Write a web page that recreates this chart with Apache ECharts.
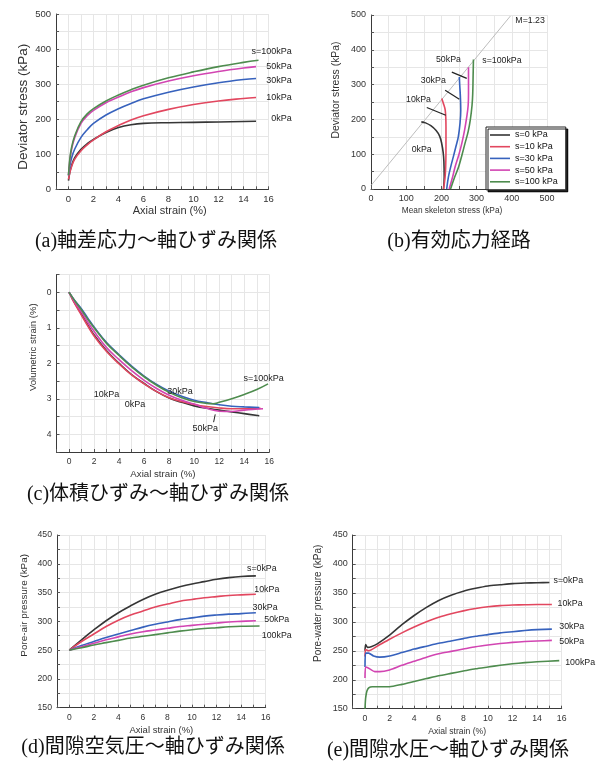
<!DOCTYPE html>
<html>
<head>
<meta charset="utf-8">
<script src="https://cdn.jsdelivr.net/npm/echarts@6.0.0/dist/echarts.min.js"></script>
<style>
html,body{margin:0;padding:0;background:#fff;}
#chart{width:602px;height:769px;}
</style>
</head>
<body>
<div id="chart"></div>
<script>
// ---------------- tick labels ----------------
const strainTickLabels = [0, 2, 4, 6, 8, 10, 12, 14, 16];
const stressTickLabels = [0, 100, 200, 300, 400, 500];
const volTickLabels = [0, 1, 2, 3, 4];
const poreTickLabels = [150, 200, 250, 300, 350, 400, 450];

// ---------------- series names ----------------
const suctionLabels = ['0kPa', '10kPa', '30kPa', '50kPa', '100kPa'];
const legendNames = ['s=0 kPa', 's=10 kPa', 's=30 kPa', 's=50 kPa', 's=100 kPa'];

// ---------------- (a) deviator stress vs axial strain [strain %, q kPa] ----------------
const devS0 = [[0,25],[0.1,48],[0.25,68],[0.5,90],[1,114],[1.5,130],[2,142],[3,162],[4,176],[5,184],[6,188],[8,190],[10,191],[12,192],[15,194]];
const devS10 = [[0,28],[0.1,47],[0.25,65],[0.5,86],[1,110],[1.5,127],[2,141],[3,164],[4,182],[5,198],[6,210],[8,228],[10,242],[12,252],[14,259],[15,262]];
const devS30 = [[0,40],[0.1,65],[0.25,90],[0.5,115],[1,148],[1.5,170],[2,188],[3,212],[4,230],[5,245],[6,258],[8,277],[10,292],[12,304],[14,313],[15,316]];
const devS50 = [[0,40],[0.1,80],[0.25,115],[0.5,148],[1,188],[1.5,210],[2,225],[3,247],[4,263],[5,278],[6,290],[8,309],[10,324],[12,336],[14,346],[15,350]];
const devS100 = [[0,40],[0.1,85],[0.25,120],[0.5,153],[1,193],[1.5,215],[2,230],[3,252],[4,269],[5,284],[6,297],[8,318],[10,335],[12,350],[14,362],[15.2,368]];

// ---------------- (b) effective stress path [p kPa, q kPa] ----------------
const pathS0 = [[206,0],[208,35],[207,80],[205,105],[201,130],[195,152],[185,168],[170,182],[155,190],[143,193]];
const pathS10 = [[206,0],[210,30],[212,60],[213,112],[213,178],[211,226],[205,248],[201,260]];
const pathS30 = [[215,0],[220,35],[228,70],[234,93],[242,125],[248,150],[253,190],[255,226],[254,264],[252,300],[251,322]];
const pathS50 = [[222,0],[232,35],[239,64],[250,100],[258,131],[266,170],[272,207],[276,240],[277,274],[277,310],[277,350]];
const pathS100 = [[226,0],[238,35],[249,64],[259,100],[267,131],[276,165],[282,198],[287,240],[289,274],[290,320],[291,372]];
const criticalLine = [[0,10],[396,497]];

// ---------------- (c) volumetric strain vs axial strain [strain %, volumetric %] ----------------
const volS0 = [[0,0],[0.25,0.17],[0.5,0.33],[1,0.62],[1.5,0.92],[2,1.2],[3,1.65],[4,2.0],[5,2.32],[6,2.57],[7,2.8],[8,2.98],[9,3.1],[10,3.2],[11,3.27],[12,3.32],[13,3.37],[14,3.42],[15.2,3.48]];
const volS10 = [[0,0],[0.25,0.18],[0.5,0.35],[1,0.65],[1.5,0.95],[2,1.23],[3,1.67],[4,2.02],[5,2.33],[6,2.58],[7,2.8],[8,2.97],[9,3.08],[10,3.16],[11,3.22],[12,3.26],[13,3.28],[14,3.28],[15.3,3.27]];
const volS30 = [[0,0],[0.25,0.13],[0.5,0.25],[1,0.47],[1.5,0.73],[2,0.98],[3,1.42],[4,1.76],[5,2.08],[6,2.36],[7,2.6],[8,2.79],[9,2.93],[10,3.04],[11,3.11],[12,3.17],[13,3.21],[14,3.23],[15.2,3.25]];
const volS50 = [[0,0],[0.25,0.15],[0.5,0.3],[1,0.56],[1.5,0.84],[2,1.1],[3,1.56],[4,1.9],[5,2.21],[6,2.48],[7,2.71],[8,2.9],[9,3.04],[10,3.15],[11,3.27],[12,3.35],[13,3.36],[14,3.32],[15.5,3.28]];
const volS100 = [[0,0],[0.25,0.13],[0.5,0.26],[1,0.5],[1.5,0.76],[2,1.0],[3,1.44],[4,1.78],[5,2.1],[6,2.38],[7,2.62],[8,2.82],[9,2.97],[10,3.08],[11,3.13],[11.5,3.14],[12,3.1],[13,3.0],[14,2.88],[15,2.74],[15.9,2.58]];

// ---------------- (d) pore-air pressure [strain %, kPa] ----------------
const airS0 = [[0,250],[1,268],[2,285],[3,301],[4,315],[5,327],[6,338],[7,347],[8,354],[9,360],[10,365],[11,369],[12,373],[13,376],[14,378],[15.2,379]];
const airS10 = [[0,250],[1,265],[2,278],[3,291],[4,302],[5,311],[6,318],[7,325],[8,330],[9,335],[10,338],[11,341],[12,343],[13,345],[14,346],[15.2,347]];
const airS30 = [[0,250],[1,258],[2,265],[3,272],[4,278],[5,284],[6,290],[7,295],[8,299],[9,303],[10,306],[11,309],[12,311],[13,312.5],[14,313.5],[15.2,315]];
const airS50 = [[0,250],[1,256],[2,262],[3,268],[4,273],[5,278],[6,282],[7,285],[8,288],[9,291],[10,293],[11,295],[12,297],[13,299],[14,300],[15.2,301]];
const airS100 = [[0,250],[1,254],[2,259],[3,263],[4,267],[5,271],[6,274],[7,277],[8,280],[9,283],[10,285.5],[11,287.5],[12,289],[13,290.5],[14,291.5],[15.5,292]];

// ---------------- (e) pore-water pressure [strain %, kPa] ----------------
const waterS0 = [[0,250],[0.05,261],[0.2,256],[0.5,257],[1,262],[2,277],[3,295],[4,311],[5,325],[6,337],[7,346],[8,353],[9,358],[10,362],[11,364],[12,366],[13,367],[14,367.5],[15,368]];
const waterS10 = [[0,240],[0.05,252],[0.3,250],[1,258],[2,270],[3,281],[4,291],[5,300],[6,308],[7,314],[8,319],[9,323],[10,326],[11,328],[12,329],[13,329.5],[14,330],[15.2,330]];
const waterS30 = [[0,222],[0.05,246],[0.3,246],[0.7,241],[1.2,239],[2,241],[3,247],[4,253],[5,258],[6,263],[7,267],[8,271],[9,275],[10,278],[11,281],[12,283],[13,285],[14,286.5],[15.2,287.5]];
const waterS50 = [[0,203],[0.05,222],[0.3,220],[0.8,214],[1.2,214],[2,217],[3,225],[4,232],[5,239],[6,245],[7,249],[8,253],[9,257],[10,260],[11,262.5],[12,264.5],[13,266],[14,267],[15.2,268]];
const waterS100 = [[0,150],[0.05,168],[0.15,180],[0.3,186],[0.6,188],[1,188],[2,188],[3,192],[4,197],[5,202],[6,207],[7,211],[8,215],[9,219],[10,222],[11,225],[12,227.5],[13,229.5],[14,231],[15.8,233]];

// ---------------- annotations [text, x, y] in data units ----------------
const notesA = [['s=100kPa',17.87,393],['50kPa',17.87,350],['30kPa',17.87,310],['10kPa',17.87,263],['0kPa',17.87,201]];
const notesB = [['M=1.23',452,484],['50kPa',220,372],['s=100kPa',372,370],['30kPa',177,312],['10kPa',135,258],['0kPa',144,112]];
const arrowsB = [[[229.6,336],[272,318]],[[210.6,284],[251,258]],[[158.5,234],[212.5,212]]];
const notesC = [['10kPa',3.0,2.89],['0kPa',5.28,3.17],['30kPa',8.87,2.8],['s=100kPa',15.55,2.42],['50kPa',10.88,3.83]];
const arrowsC = [[[11.55,3.66],[11.68,3.44]]];
const notesD = [['s=0kPa',15.68,392],['10kPa',16.09,355],['30kPa',15.95,324],['50kPa',16.9,303],['100kPa',16.9,276]];
const notesE = [['s=0kPa',16.54,372],['10kPa',16.68,331],['30kPa',16.82,291.6],['50kPa',16.82,265.7],['100kPa',17.5,229.5]];

// ---------------- captions ----------------
const captions = ['(a)軸差応力～軸ひずみ関係','(b)有効応力経路','(c)体積ひずみ～軸ひずみ関係','(d)間隙空気圧～軸ひずみ関係','(e)間隙水圧～軸ひずみ関係'];

// =============== rendering ===============
const FONT = "'Liberation Sans', Arial, sans-serif";
const SERIF = "'Liberation Serif', 'Noto Sans CJK JP', serif";
const colors = ['#363636', '#e2475f', '#3762bd', '#d245b2', '#4e8c4e'];
const chart = echarts.init(document.getElementById('chart'), null, {renderer: 'canvas'});

function near(v, list) { return list.some(t => Math.abs(t - v) < 1e-6); }

function axisCommon(labels, fs) {
  return {
    axisLine: {onZero: false, lineStyle: {color: '#3a3a3a', width: 1}},
    axisTick: {inside: true, length: 3, lineStyle: {color: '#555', width: 1}},
    axisLabel: {fontSize: fs, color: '#333', fontFamily: FONT, margin: 5,
      formatter: v => near(v, labels) ? String(Math.round(v * 1000) / 1000) : ''},
    splitLine: {show: true, lineStyle: {color: '#e6e6e6', width: 1}}
  };
}
function xAx(gi, min, max, step, labels, fs, name, nameFs, gap, pad) {
  return Object.assign({type: 'value', gridIndex: gi, min, max, interval: step, position: 'bottom',
    name, nameLocation: 'middle', nameGap: gap,
    nameTextStyle: {fontSize: nameFs, color: '#333', fontFamily: FONT, padding: pad}}, axisCommon(labels, fs));
}
function yAx(gi, min, max, step, labels, fs, name, nameFs, gap, pad, inverse) {
  return Object.assign({type: 'value', gridIndex: gi, min, max, interval: step, position: 'left', inverse: !!inverse,
    name, nameLocation: 'middle', nameGap: gap,
    nameTextStyle: {fontSize: nameFs, color: '#333', fontFamily: FONT, padding: pad}}, axisCommon(labels, fs));
}
function line(name, data, gi, color, smooth) {
  return {type: 'line', name, data, xAxisIndex: gi, yAxisIndex: gi, symbol: 'none', showSymbol: false,
    smooth: smooth == null ? 0.4 : smooth, clip: false, silent: true,
    lineStyle: {color, width: 1.6}, itemStyle: {color}, z: 3};
}

const series = [];
[devS0, devS10, devS30, devS50, devS100].forEach((d, i) => series.push(line('a-' + suctionLabels[i], d, 0, colors[i])));
series.push({type: 'line', name: 'M', data: criticalLine, xAxisIndex: 1, yAxisIndex: 1, symbol: 'none', silent: true,
  lineStyle: {color: '#bdbdbd', width: 1}, z: 2,
  markLine: {silent: true, symbol: ['none', 'arrow'], symbolSize: [0, 6], label: {show: false},
    lineStyle: {color: '#222', width: 1.2, type: 'solid', curveness: -0.3},
    data: arrowsB.map(a => [{coord: a[0]}, {coord: a[1]}])}});
[pathS0, pathS10, pathS30, pathS50, pathS100].forEach((d, i) => series.push(line(legendNames[i], d, 1, colors[i])));
[volS0, volS10, volS30, volS50, volS100].forEach((d, i) => {
  const s = line('c-' + suctionLabels[i], d, 2, colors[i]);
  if (i === 3) s.markLine = {silent: true, symbol: ['none', 'arrow'], symbolSize: [0, 5], label: {show: false},
    lineStyle: {color: '#222', width: 1, type: 'solid', curveness: 0},
    data: arrowsC.map(a => [{coord: a[0]}, {coord: a[1]}])};
  series.push(s);
});
[airS0, airS10, airS30, airS50, airS100].forEach((d, i) => series.push(line('d-' + suctionLabels[i], d, 3, colors[i])));
[waterS0, waterS10, waterS30, waterS50, waterS100].forEach((d, i) => series.push(line('e-' + suctionLabels[i], d, 4, colors[i], 0.2)));

const option = {
  animation: false,
  backgroundColor: '#ffffff',
  grid: [
    {left: 56, top: 14, width: 212.5, height: 175.3},
    {left: 371, top: 15, width: 176, height: 174},
    {left: 56.5, top: 274.5, width: 212.8, height: 177.5},
    {left: 57, top: 535, width: 208.7, height: 172.7},
    {left: 352.7, top: 535, width: 209, height: 173.7}
  ],
  xAxis: [
    xAx(0, -1, 16, 1, strainTickLabels, 9.5, 'Axial strain (%)', 11, 14, [0, 0, 0, 15]),
    xAx(1, 0, 500, 50, stressTickLabels, 9, 'Mean skeleton stress (kPa)', 8.3, 18, [0, 14, 0, 0]),
    xAx(2, -1, 16, 1, strainTickLabels, 8.5, 'Axial strain (%)', 9.7, 17.5, [0, 0, 0, 0]),
    xAx(3, -1, 16, 1, strainTickLabels, 8.5, 'Axial strain (%)', 9.5, 18, [0, 0, 0, 0]),
    xAx(4, -1, 16, 1, strainTickLabels, 8.7, 'Axial strain (%)', 8.6, 18.5, [0, 0, 0, 0])
  ],
  yAxis: [
    yAx(0, 0, 500, 50, stressTickLabels, 9.5, 'Deviator stress (kPa)', 13.5, 26, [0, 10, 0, 0]),
    yAx(1, 0, 500, 50, stressTickLabels, 9, 'Deviator stress (kPa)', 10.4, 29.5, [0, 0, 0, 24]),
    yAx(2, -0.5, 4.5, 0.5, volTickLabels, 8.5, 'Volumetric strain (%)', 9.5, 18, [0, 0, 0, 32], true),
    yAx(3, 150, 450, 25, poreTickLabels, 8.7, 'Pore-air pressure (kPa)', 9.9, 27.3, [0, 0, 0, 32]),
    yAx(4, 150, 450, 25, poreTickLabels, 9, 'Pore-water pressure (kPa)', 10, 29, [0, 0, 0, 37])
  ],
  legend: {
    show: true, data: legendNames, orient: 'vertical', left: 486, top: 127,
    padding: [3, 8, 3, 4], itemWidth: 20, itemHeight: 1.6, itemGap: 1.7, icon: 'rect',
    backgroundColor: '#ffffff', borderColor: '#222', borderWidth: 1,
    shadowColor: 'rgba(0,0,0,0.85)', shadowOffsetX: 2, shadowOffsetY: 2, shadowBlur: 0.1,
    selectedMode: false, z: 10,
    textStyle: {fontSize: 9, color: '#111', fontFamily: FONT, lineHeight: 10}
  },
  series
};
chart.setOption(option);

const graphic = [];
function addNotes(gi, notes, fs, align) {
  notes.forEach(n => {
    const p = chart.convertToPixel({gridIndex: gi}, [n[1], n[2]]);
    graphic.push({type: 'text', x: p[0], y: p[1], silent: true, z: 20,
      style: {text: n[0], fontSize: fs, fontFamily: FONT, fill: '#222', align: align || 'center', verticalAlign: 'middle'}});
  });
}
addNotes(0, notesA, 9, 'right');
addNotes(1, notesB, 8.8);
addNotes(2, notesC, 9);
addNotes(3, notesD, 8.8);
addNotes(4, notesE, 8.8);

const capPos = [[156, 242], [459, 242], [158, 495], [153, 748], [448, 751]];
captions.forEach((t, i) => {
  graphic.push({type: 'text', x: capPos[i][0], y: capPos[i][1], silent: true, z: 20,
    style: {text: t, fontSize: 20, fontFamily: SERIF, fill: '#111', align: 'center', verticalAlign: 'middle'}});
});
chart.setOption({graphic});
</script>
</body>
</html>
